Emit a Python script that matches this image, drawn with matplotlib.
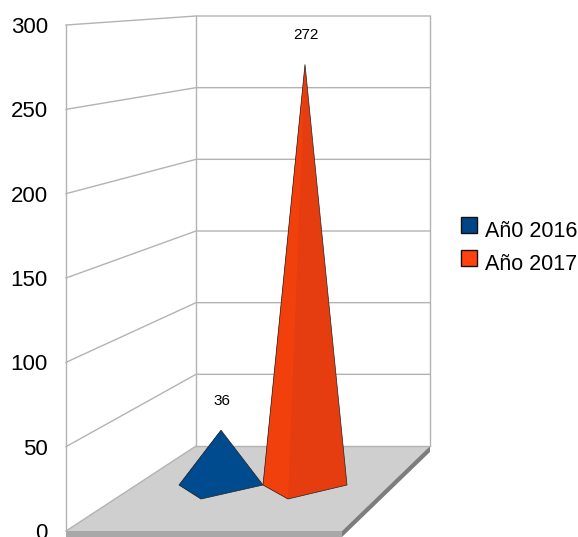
import matplotlib
matplotlib.use("Agg")
import matplotlib.pyplot as plt
from matplotlib.patches import Polygon, Rectangle

plt.rcParams['font.family'] = ['Liberation Sans', 'DejaVu Sans']

tick_values = [0, 50, 100, 150, 200, 250, 300]
series_names = ['Añ0 2016', 'Año 2017']
series_values = [36, 272]
series_colors = ['#004586', '#ff420e']
left_faces = ['#004a8f', '#f2400c']
right_faces = ['#004a8e', '#e53d0f']
apex_x = [221, 305]
bases = [[(179, 485), (201, 499), (263, 485)], [(263, 485), (288, 499), (347, 485)]]
legend_y = [225, 257.5]

W, H = 578, 537
fig = plt.figure(figsize=(W/100, H/100), dpi=100)
ax = fig.add_axes([0, 0, 1, 1])
ax.set_xlim(0, W)
ax.set_ylim(H, 0)
ax.axis('off')

FRONT_X, BACK_X, RIGHT_X = 66, 196, 430
FRONT_0, FRONT_K = 531, (531 - 25) / 300
BACK_0, BACK_K = 446, (446 - 16) / 300
grid = '#b3b3b3'

# floor
ax.add_patch(Polygon([(FRONT_X, FRONT_0), (342, FRONT_0), (RIGHT_X, BACK_0), (BACK_X, BACK_0)],
                     fc='#cfcfcf', ec='none', zorder=1))
ax.add_patch(Polygon([(FRONT_X, FRONT_0), (342, FRONT_0), (342, 537), (FRONT_X, 537)],
                     fc='#a8a8a8', ec='none', zorder=1))
ax.add_patch(Polygon([(342, FRONT_0), (RIGHT_X, BACK_0), (RIGHT_X, 452), (342, 537)],
                     fc='#7d7d7d', ec='none', zorder=1))

# walls and grid
for v in tick_values:
    yf = FRONT_0 - v * FRONT_K
    yb = BACK_0 - v * BACK_K
    if v > 0:
        ax.plot([FRONT_X, BACK_X, RIGHT_X], [yf, yb, yb], color=grid, lw=1, zorder=2)
    ax.text(48, yf + 2.5, str(v), ha='right', va='center', fontsize=16, color='black', clip_on=True)
top_f, top_b = FRONT_0 - 300 * FRONT_K, BACK_0 - 300 * BACK_K
ax.plot([FRONT_X, FRONT_X], [top_f, FRONT_0], color=grid, lw=1, zorder=2)
ax.plot([BACK_X, BACK_X], [top_b, BACK_0], color=grid, lw=1, zorder=2)
ax.plot([RIGHT_X, RIGHT_X], [top_b, BACK_0], color=grid, lw=1, zorder=2)
ax.plot([FRONT_X, BACK_X], [FRONT_0, BACK_0], color=grid, lw=1, zorder=2)
ax.plot([BACK_X, RIGHT_X], [BACK_0, BACK_0], color=grid, lw=1, zorder=2)

# pyramids
BASE_Y, K = 486, 1.55
for i, v in enumerate(series_values):
    apex = (apex_x[i], BASE_Y - v * K)
    a, b, c = bases[i]
    ax.add_patch(Polygon([a, b, c, apex], fc=right_faces[i], ec='none', zorder=3 + i))
    ax.add_patch(Polygon([a, b, apex], fc=left_faces[i], ec='none', zorder=3 + i))
    ax.add_patch(Polygon([a, b, c, apex], fill=False, ec='#222222', lw=0.5, zorder=3 + i))
    ax.text(apex_x[i] + 0.5, apex[1] - 29, str(v), ha='center', va='center', fontsize=11, color='black')

# legend
for name, col, y in zip(series_names, series_colors, legend_y):
    ax.add_patch(Rectangle((460.5, y - 8), 16, 16, fc=col, ec='#111111', lw=1, zorder=3))
    ax.text(485, y + 6.5, name, ha='left', va='center', fontsize=15.5, color='black')

fig.savefig('out.png', dpi=100)
